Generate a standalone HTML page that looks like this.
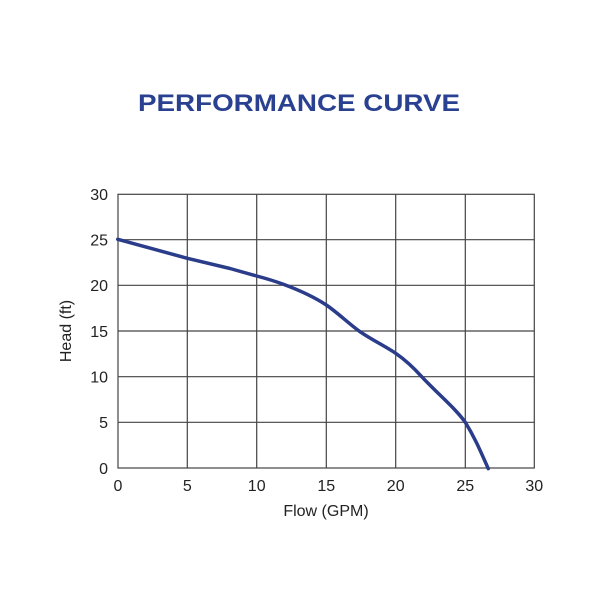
<!DOCTYPE html>
<html><head><style>body{margin:0;background:#fff}</style></head><body>
<svg width="600" height="600" xmlns="http://www.w3.org/2000/svg" font-family="Liberation Sans, Arial, sans-serif">
<rect width="600" height="600" fill="#fff"/>
<text x="138" y="111" font-size="24" font-weight="bold" fill="#2a4191" textLength="322" lengthAdjust="spacingAndGlyphs">PERFORMANCE CURVE</text>
<g stroke="#444" stroke-width="1.2" fill="none">
<rect x="118" y="194.3" width="416.3" height="273.7"/>
<path d="M187.3 194.3V468M256.7 194.3V468M326.3 194.3V468M395.7 194.3V468M465.3 194.3V468M118 239.7H534.3M118 285.3H534.3M118 331H534.3M118 376.7H534.3M118 422.3H534.3"/>
</g>
<path d="M117.7 239.3 L187.3 258.3 L230 268.5 L256.7 276 C268 279 276 281.5 283.3 284.3 C300 290.5 314 297 326.3 305 C338 313 348 323 360 331.7 C372 340 385 346 395.7 353.3 C404 359 413 367 421.7 376.7 C440 396 455 408 465.3 422.3 C475 438 480 450 488.3 468.7" fill="none" stroke="#2a3c8a" stroke-width="3.5" stroke-linecap="round" stroke-linejoin="round"/>
<g font-size="16" fill="#222" text-anchor="end">
<text x="108" y="200">30</text><text x="108" y="245.5">25</text><text x="108" y="291">20</text><text x="108" y="337">15</text><text x="108" y="382.5">10</text><text x="108" y="428">5</text><text x="108" y="474">0</text>
</g>
<g font-size="16" fill="#222" text-anchor="middle">
<text x="118" y="491">0</text><text x="187.3" y="491">5</text><text x="256.7" y="491">10</text><text x="326.3" y="491">15</text><text x="395.7" y="491">20</text><text x="465.3" y="491">25</text><text x="534.3" y="491">30</text>
<text x="326" y="516">Flow (GPM)</text>
<text transform="translate(71 331) rotate(-90)">Head (ft)</text>
</g>
</svg>
</body></html>
